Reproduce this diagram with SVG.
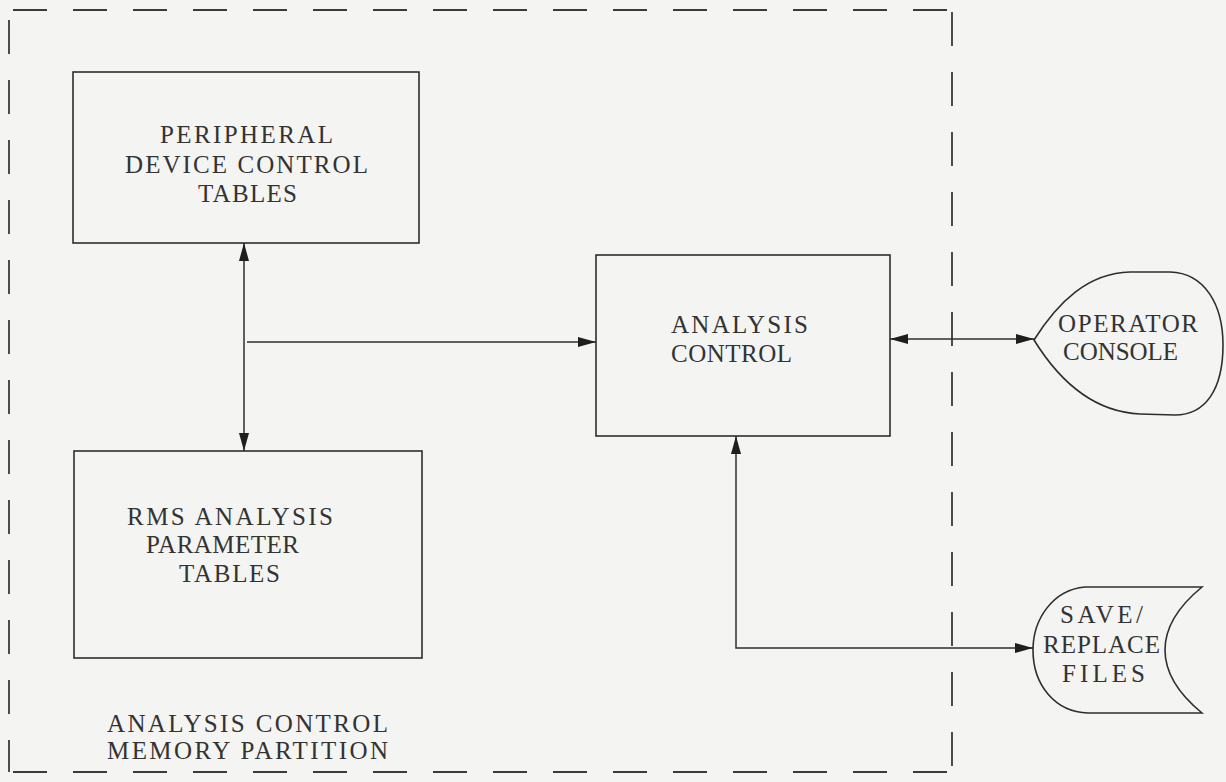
<svg xmlns="http://www.w3.org/2000/svg" width="1226" height="782" viewBox="0 0 1226 782">
<defs>
<style>
.bg{fill:#f4f4f2}
.box{fill:none;stroke:#2e2e2e;stroke-width:1.6}
.dash{fill:none;stroke:#3a3a3a;stroke-width:1.8;stroke-dasharray:34 26}
.conn{fill:none;stroke:#2e2e2e;stroke-width:1.5}
.t{font-family:"Liberation Serif","Times New Roman",serif;font-size:25px;fill:#333333}
</style>
<marker id="ah" viewBox="0 0 18 10" refX="18" refY="5" markerWidth="18" markerHeight="10" markerUnits="userSpaceOnUse" orient="auto-start-reverse">
<path d="M0,0 L18,5 L0,10 z" fill="#1e1e1e"/>
</marker>
</defs>
<rect class="bg" x="0" y="0" width="1226" height="782"/>

<g id="partition">
<path class="dash" d="M13,10 L950,10"/>
<path class="dash" d="M952,12 L952,772"/>
<path class="dash" d="M13,772 L950,772"/>
<path class="dash" d="M9,20 L9,772"/>
<text class="t" x="107" y="732" textLength="281" lengthAdjust="spacing">ANALYSIS CONTROL</text>
<text class="t" x="107" y="759" textLength="281" lengthAdjust="spacing">MEMORY PARTITION</text>
</g>

<g id="peripheral">
<rect class="box" x="73" y="72" width="346" height="171"/>
<text class="t" x="160" y="143" textLength="173" lengthAdjust="spacing">PERIPHERAL</text>
<text class="t" x="125" y="173" textLength="243" lengthAdjust="spacing">DEVICE CONTROL</text>
<text class="t" x="198" y="202" textLength="99" lengthAdjust="spacing">TABLES</text>
</g>

<g id="rms">
<rect class="box" x="74" y="451" width="348" height="207"/>
<text class="t" x="127" y="525" textLength="206" lengthAdjust="spacing">RMS ANALYSIS</text>
<text class="t" x="146" y="553" textLength="153" lengthAdjust="spacing">PARAMETER</text>
<text class="t" x="179" y="582" textLength="101" lengthAdjust="spacing">TABLES</text>
</g>

<g id="analysis">
<rect class="box" x="596" y="255" width="294" height="181"/>
<text class="t" x="671" y="333" textLength="137" lengthAdjust="spacing">ANALYSIS</text>
<text class="t" x="671" y="362" textLength="121" lengthAdjust="spacing">CONTROL</text>
</g>

<g id="operator">
<path class="box" d="M1034,340 C1058,302 1088,273 1130,272 L1170,272 C1205,273 1223,305 1223,345 C1223,390 1205,415 1175,415 L1140,414 C1095,412 1060,382 1034,340 Z"/>
<text class="t" x="1058" y="332" textLength="140" lengthAdjust="spacing">OPERATOR</text>
<text class="t" x="1063" y="360" textLength="115" lengthAdjust="spacing">CONSOLE</text>
</g>

<g id="savefiles">
<path class="box" d="M1202,587 L1085,587 C1052,590 1033,620 1033,650 C1033,685 1055,712 1088,713 L1202,713 C1180,695 1165,675 1165,650 C1165,625 1180,605 1202,587 Z"/>
<text class="t" x="1060" y="623" textLength="83" lengthAdjust="spacing">SAVE/</text>
<text class="t" x="1043" y="653" textLength="117" lengthAdjust="spacing">REPLACE</text>
<text class="t" x="1062" y="682" textLength="83" lengthAdjust="spacing">FILES</text>
</g>

<g id="connectors">
<line class="conn" x1="244" y1="243" x2="244" y2="451" marker-start="url(#ah)" marker-end="url(#ah)"/>
<line class="conn" x1="247" y1="342" x2="596" y2="342" marker-end="url(#ah)"/>
<line class="conn" x1="890" y1="339" x2="1034" y2="339" marker-start="url(#ah)" marker-end="url(#ah)"/>
<path class="conn" d="M736,436 L736,648 L1033,648" marker-start="url(#ah)" marker-end="url(#ah)"/>
</g>
</svg>
